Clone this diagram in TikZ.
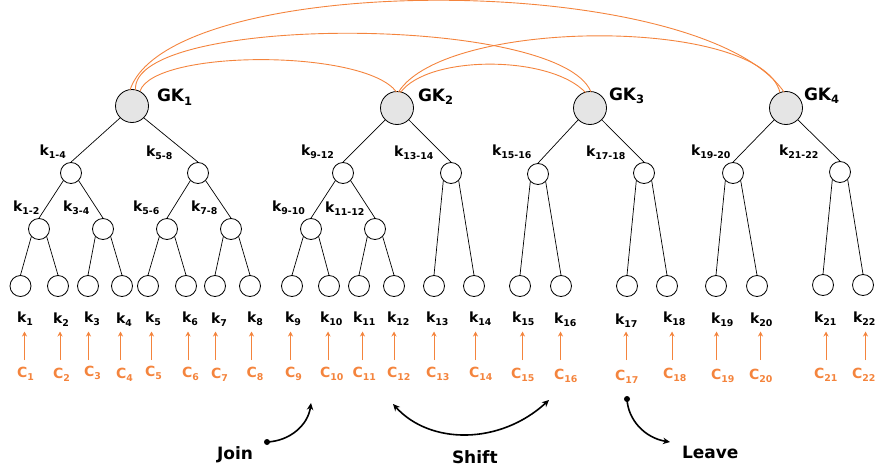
\documentclass[tikz,border=0pt]{standalone}
\usepackage{fontspec}
\setmainfont{DejaVu Sans}
\usetikzlibrary{arrows.meta}
\definecolor{orng}{HTML}{F4843D}
\newcommand{\sublab}[3]{{\fontsize{14}{14}\selectfont\bfseries #1\raisebox{-#3pt}{\fontsize{9.4}{9.4}\selectfont #2}}}
\tikzset{
  gk/.style={circle,draw=black,fill=black!10,line width=0.8pt,minimum size=33pt,inner sep=0pt},
  tnode/.style={circle,draw=black,fill=white,line width=0.8pt,minimum size=21pt,inner sep=0pt},
  edge/.style={draw=black,line width=0.7pt},
  link/.style={draw=orng,line width=0.9pt},
  txt/.style={anchor=base west,inner sep=0pt,outer sep=0pt},
  clab/.style={txt,text=orng},
  up/.style={draw=orng,line width=0.9pt,-{Stealth[length=5pt,width=5pt]}},
  act/.style={draw=black,line width=1.6pt,-{Stealth[length=7pt,width=6.5pt]}},
  actboth/.style={draw=black,line width=1.6pt,{Stealth[length=7pt,width=6.5pt]}-{Stealth[length=7pt,width=6.5pt]}},
  actdot/.style={circle,fill=black,inner sep=0pt,minimum size=6pt},
  big/.style={txt,font=\fontsize{17}{17}\selectfont\bfseries}
}
\begin{document}
\begin{tikzpicture}[x=1pt,y=-1pt]
\useasboundingbox (0,0) rectangle (876,471);
% group key nodes
\node[gk] (g1) at (132,106) {};
\node[gk] (g2) at (397,108) {};
\node[gk] (g3) at (590,108) {};
\node[gk] (g4) at (786,108) {};
% tree level 2 and 3
\foreach \n/\x/\y in {a/71/173,b/198/173,c/343/173,d/451/173,e/538/174,f/644/173,g/733/173,h/840/172,
  aa/39/229,ab/103/229,ba/167/229,bb/231/229,ca/311/229,cb/375/229}
  \node[tnode] (\n) at (\x,\y) {};
% leaves
\foreach \i/\x/\y in {1/20.5/286,2/58/286,3/88/286,4/122/286,5/148/286,6/186/286,7/215/286,8/250/286,
  9/292/286,10/329/286,11/359/286,12/394/286,13/434/286,14/474/286,15/520/286,16/561/286,
  17/627/286,18/667/286,19/716/286,20/757/286,21/823/285,22/863/285}
  \node[tnode] (l\i) at (\x,\y) {};
% tree edges
\foreach \p/\q in {g1/a,g2/c,g3/e,g4/g,a/aa,b/ba,c/ca,
  aa/l1,ab/l3,ba/l5,bb/l7,ca/l9,cb/l11,d/l13,e/l15,f/l17,g/l19,h/l21}
  \draw[edge] (\p.south west) -- (\q.north);
\foreach \p/\q in {g1/b,g2/d,g3/f,g4/h,a/ab,b/bb,c/cb,
  aa/l2,ab/l4,ba/l6,bb/l8,ca/l10,cb/l12,d/l14,e/l16,f/l18,g/l20,h/l22}
  \draw[edge] (\p.south east) -- (\q.north);
% orange links between group keys
\coordinate (s1a) at (130,90); \coordinate (s1b) at (135.5,90); \coordinate (s1c) at (140,91);
\coordinate (e2a) at (396.5,92);
\coordinate (s2b) at (398.5,92); \coordinate (s2c) at (400.5,92.5);
\coordinate (e3a) at (585.5,92.5); \coordinate (e3b) at (591,92);
\coordinate (e4a) at (780,92.5); \coordinate (e4b) at (784,92);
\draw[link] (s1c) .. controls (155,49) and (365,49) .. (e2a);
\draw[link] (s1b) .. controls (130,14) and (560,14) .. (e3b);
\draw[link] (s1a) .. controls (170,-30) and (700,-30) .. (e4b);
\draw[link] (s2c) .. controls (428,54.7) and (550,54.7) .. (e3a);
\draw[link] (s2b) .. controls (446,17) and (761,17) .. (e4a);
% key labels
\foreach \a/\x/\y/\s in {k14/39.5/155.5/1-4,k58/146/156/5-8,k12/13/211/1-2,k34/63/211/3-4,k56/133/211/5-6,k78/191/211/7-8,
  k912/301/155/9-12,k1314/394/156/13-14,k910/272/211/9-10,k1112/325/212/11-12,
  k1516/492/155/15-16,k1718/586/156/17-18,k1920/691/155/19-20,k2122/779/155/21-22}
  \node[txt] (\a) at (\x,\y) {\sublab{k}{\s}{3}};
\foreach \i/\x/\y in {1/17/322.5,2/53/323,3/84/322,4/116/323,5/145/322,6/182/322,7/211/323,8/247/322,9/285/322,10/320/322,
  11/353/322,12/387/322,13/426/322,14/469/322,15/512/322,16/554/323,17/615/324,18/663/322,19/711/323,20/750/323,21/814/322,22/853/322}
  \node[txt] (k\i) at (\x,\y) {\sublab{k}{\i}{3}};
\foreach \i/\x/\y in {1/17/377,2/53/378,3/84/376,4/116/378,5/145/376,6/182/377,7/211/378,8/246.5/377,9/285/377,10/320/377,
  11/352.5/377,12/387/377,13/426/377,14/469/377,15/511/378,16/554/379,17/615/380,18/663/378,19/711/379,20/749/379,21/814/378,22/852/378}
  \node[clab] (c\i) at (\x,\y) {\sublab{C}{\i}{3}};
% client arrows
\foreach \i/\x in {1/24.5,2/60,3/88.5,4/120.5,5/151.5,6/188,7/215.5,8/251.5,9/290.5,10/328,11/362.5,
  12/394,13/434,14/475.5,15/522.5,16/560.5,17/626,18/672,19/716.5,20/760.5,21/826,22/865.5}
{
  \coordinate (from\i) at (\x,360);
  \coordinate (to\i) at (\x,331.5);
  \draw[up] (from\i) -- (to\i);
}
% group labels
\foreach \i/\x/\y in {1/157/101.5,2/418/101,3/609/100,4/804/100}
  \node[big] (gl\i) at (\x,\y) {GK\raisebox{-3.5pt}{\fontsize{11.5}{11.5}\selectfont\bfseries\i}};
% actions
\node[big] (join) at (217,459) {Join};
\node[big] (shift) at (452,463) {Shift};
\node[big] (leave) at (682,458) {Leave};
\node[actdot] (jd) at (267,442) {};
\node[actdot] (ld) at (627,399) {};
\coordinate (jt) at (311,403);
\coordinate (sa) at (393,404);
\coordinate (sb) at (549,400);
\coordinate (lt) at (670,442);
\draw[act] (jd.center) .. controls (290,441) and (308,425) .. (jt);
\draw[actboth] (sa) .. controls (430,445) and (500,445) .. (sb);
\draw[act] (ld.center) .. controls (628,420) and (645,438) .. (lt);
\end{tikzpicture}
\end{document}
